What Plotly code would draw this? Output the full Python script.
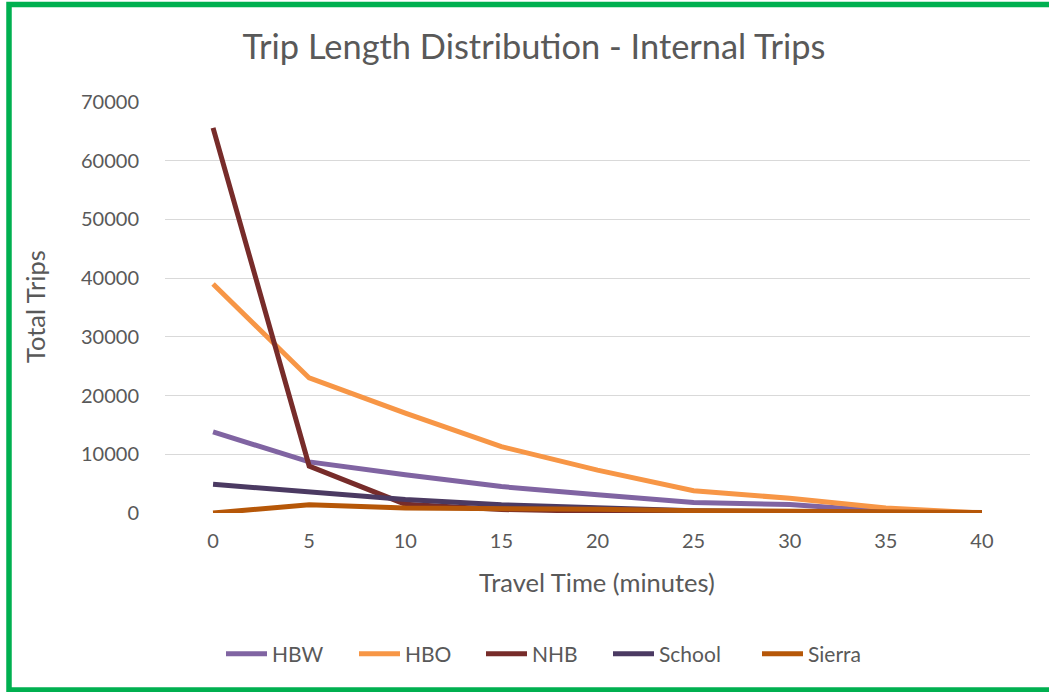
import plotly.graph_objects as go

travel_time = [0, 5, 10, 15, 20, 25, 30, 35, 40]
hbw = [13800, 8700, 6500, 4500, 3100, 1800, 1450, 300, 0]
hbo = [39000, 23000, 17000, 11300, 7300, 3800, 2500, 850, 0]
nhb = [65600, 8000, 1500, 600, 300, 120, 60, 20, 0]
school = [4900, 3600, 2300, 1400, 850, 400, 220, 100, 0]
sierra = [0, 1400, 850, 850, 650, 400, 280, 170, 80]

series_names = ["HBW", "HBO", "NHB", "School", "Sierra"]
series_values = [hbw, hbo, nhb, school, sierra]
series_colors = ["#8064A2", "#F79646", "#772C2A", "#4B3A62", "#B65708"]
legend_widths = [77, 71, 71, 93, 60]

FONT = "Lato"
GREY = "#595959"

fig = go.Figure()
for name, vals, col, lw in zip(series_names, series_values, series_colors, legend_widths):
    fig.add_trace(go.Scatter(x=travel_time, y=vals, name=name, mode="lines",
                             legendwidth=lw, line=dict(color=col, width=5)))

W, H = 1049, 692
PL, PR, PT, PB = 165, 1030, 102, 513  # plot area in window coords
pw, ph = PR - PL, PB - PT

def px(x):
    return (x - PL) / pw

def py(y):
    return (PB - y) / ph

fig.update_layout(
    width=W, height=H,
    margin=dict(l=PL, r=W - PR, t=PT, b=H - PB, autoexpand=False),
    paper_bgcolor="white", plot_bgcolor="white",
    font=dict(family=FONT, color=GREY, size=20),
    title=dict(text="Trip Length Distribution - Internal Trips", xref="container",
               x=534 / W, xanchor="center", yref="container",
               y=1 - 47 / H, yanchor="middle",
               font=dict(size=34.4, color=GREY, family=FONT)),
    xaxis=dict(range=[-2.5, 42.5], tickvals=travel_time, showgrid=False,
               zeroline=False, showline=False, ticks="", ticklabelstandoff=14,
               tickfont=dict(size=20, color=GREY)),
    yaxis=dict(range=[0, 70000], dtick=10000, tickformat="d", showgrid=True,
               gridcolor="#D9D9D9", gridwidth=1.3, zeroline=False, showline=False,
               ticks="", ticklabelstandoff=25, tickfont=dict(size=20, color=GREY)),
    legend=dict(orientation="h", x=px(221), xanchor="left", y=py(654),
                yanchor="middle", font=dict(size=21, color=GREY),
                itemwidth=41, tracegroupgap=0, bgcolor="rgba(0,0,0,0)"),
    showlegend=True,
)

fig.add_annotation(text="Travel Time (minutes)", xref="paper", yref="paper",
                   x=px(597), y=py(582), showarrow=False,
                   font=dict(size=25.5, color=GREY), xanchor="center", yanchor="middle")
fig.add_annotation(text="Total Trips", xref="paper", yref="paper",
                   x=px(35), y=py(307), showarrow=False, textangle=-90,
                   font=dict(size=25.5, color=GREY), xanchor="center", yanchor="middle")

fig.add_shape(type="rect", xref="paper", yref="paper",
              x0=px(9), x1=px(1060), y0=py(690), y1=py(4.5),
              line=dict(color="#00B050", width=5.5), fillcolor="rgba(0,0,0,0)")

fig.write_html("out.html", config={"displayModeBar": False},
               post_script="document.body.style.margin='0';document.body.style.overflow='hidden';")
